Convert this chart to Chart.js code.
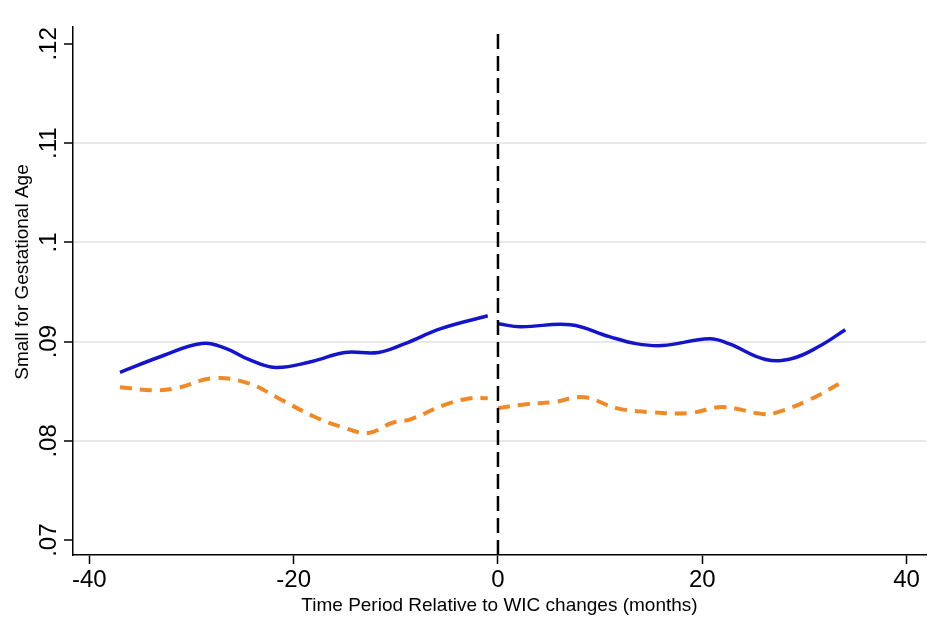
<!DOCTYPE html>
<html>
<head>
<meta charset="utf-8">
<script src="https://cdn.jsdelivr.net/npm/chart.js@4/dist/chart.umd.min.js"></script>
<style>
  body { margin: 0; background: #fff; }
  #wrap { width: 928px; height: 619px; position: relative; }
</style>
</head>
<body>
<div id="wrap"><canvas id="sga"></canvas></div>
<script>
// months relative to WIC change
var blueBeforeX = [-37, -33, -29, -26.6, -24.4, -21.8, -18.2, -15, -11.7, -9.1, -5.6, -1];
var blueBeforeY = [0.0869, 0.0885, 0.0898, 0.0893, 0.0882, 0.0874, 0.0880, 0.0889, 0.0889, 0.0898, 0.0913, 0.0926];
var blueAfterX = [0, 2.2, 7.1, 10.9, 13.5, 16.1, 20.7, 22.6, 26.2, 28.8, 31.4, 34];
var blueAfterY = [0.0918, 0.0915, 0.0917, 0.0905, 0.0898, 0.0896, 0.0903, 0.0898, 0.0882, 0.0883, 0.0895, 0.0912];

var orangeBeforeX = [-37, -33.8, -31.5, -27.9, -24.4, -21.5, -17.9, -15.3, -12.7, -10.4, -8.5, -5.3, -2.7, -1];
var orangeBeforeY = [0.0854, 0.0851, 0.0853, 0.0863, 0.0858, 0.0843, 0.0824, 0.0814, 0.0808, 0.0818, 0.0822, 0.0836, 0.0843, 0.0843];
var orangeAfterX = [0, 2.8, 5.4, 8.4, 11.6, 14.8, 18.7, 22, 25.9, 27.1, 30.4, 34];
var orangeAfterY = [0.0833, 0.0837, 0.0839, 0.0844, 0.0833, 0.0829, 0.0828, 0.0834, 0.0827, 0.0828, 0.0841, 0.0861];

var xTicks = [-40, -20, 0, 20, 40];
var yTicks = [0.07, 0.08, 0.09, 0.1, 0.11, 0.12];
var yMin = 0.0685, yMax = 0.1217;

function pairs(xs, ys) {
    var out = [];
    for (var i = 0; i < xs.length; i++) out.push({x: xs[i], y: ys[i]});
    return out;
}

var blue = "#1414c8";
var orange = "#ee8a2a";
var tickFont = "'Liberation Sans', Arial, sans-serif";

function curve(points, color, dash, width, tension) {
    return {
        data: points,
        borderColor: color,
        borderWidth: width,
        borderDash: dash,
        pointRadius: 0,
        fill: false,
        tension: tension
    };
}

// y title is drawn by hand, Stata puts it a bit above the middle
var yTitle = {
    id: "yTitle",
    afterDraw: function (chart) {
        var c = chart.ctx;
        c.save();
        c.translate(28, 272);
        c.rotate(-Math.PI / 2);
        c.font = "19px 'Liberation Sans', Arial, sans-serif";
        c.fillStyle = "#000";
        c.textAlign = "center";
        c.textBaseline = "alphabetic";
        c.fillText("Small for Gestational Age", 0, 0);
        c.restore();
    }
};

var ctx = document.getElementById("sga").getContext("2d");
Chart.defaults.font.family = "'Liberation Sans', Arial, sans-serif";

var chart = new Chart(ctx, {
    type: "line",
    data: {
        datasets: [
            curve([{x: 0, y: yMin}, {x: 0, y: yMax}], "#000", [15, 7], 2.5, 0),
            curve(pairs(blueBeforeX, blueBeforeY), blue, [], 3.5, 0.4),
            curve(pairs(blueAfterX, blueAfterY), blue, [], 3.5, 0.4),
            curve(pairs(orangeBeforeX, orangeBeforeY), orange, [12, 8], 4, 0.4),
            curve(pairs(orangeAfterX, orangeAfterY), orange, [12, 8], 4, 0.4)
        ]
    },
    options: {
        responsive: true,
        maintainAspectRatio: false,
        animation: false,
        layout: { padding: { top: 27, right: 2, left: 0, bottom: 0 } },
        plugins: { legend: { display: false }, tooltip: { enabled: false } },
        scales: {
            x: {
                type: "linear",
                min: -41.6,
                max: 41.9,
                afterBuildTicks: function (s) { s.ticks = xTicks.map(function (v) { return {value: v}; }); },
                afterFit: function (s) { s.height = 64; },
                border: { display: true, color: "#000", width: 1.5 },
                grid: { drawOnChartArea: false, tickLength: 9, tickColor: "#000", tickWidth: 1.5 },
                ticks: {
                    color: "#000",
                    padding: 2,
                    maxRotation: 0,
                    font: { family: tickFont, size: 24 }
                },
                title: {
                    display: true,
                    text: "Time Period Relative to WIC changes (months)",
                    color: "#000",
                    font: { size: 19 },
                    padding: { top: 2, bottom: 2 }
                }
            },
            y: {
                type: "linear",
                min: yMin,
                max: yMax,
                afterBuildTicks: function (s) { s.ticks = yTicks.map(function (v) { return {value: v}; }); },
                afterFit: function (s) { s.width = 73; },
                border: { display: true, color: "#000", width: 1.5 },
                grid: {
                    color: function (c) {
                        if (!c.tick) return "rgba(0,0,0,0)";
                        var v = Math.round(c.tick.value * 100);
                        return (v === 7 || v === 12) ? "rgba(0,0,0,0)" : "#e8e8e8";
                    },
                    lineWidth: 2,
                    tickLength: 9,
                    tickColor: "#000",
                    tickWidth: 1.5
                },
                ticks: {
                    color: "#000",
                    padding: -2,
                    minRotation: 90,
                    maxRotation: 90,
                    crossAlign: "center",
                    font: { family: tickFont, size: 24 },
                    callback: function (v) {
                        return String(Math.round(v * 100) / 100).replace(/^0/, "");
                    }
                }
            }
        }
    },
    plugins: [yTitle]
});
</script>
</body>
</html>
